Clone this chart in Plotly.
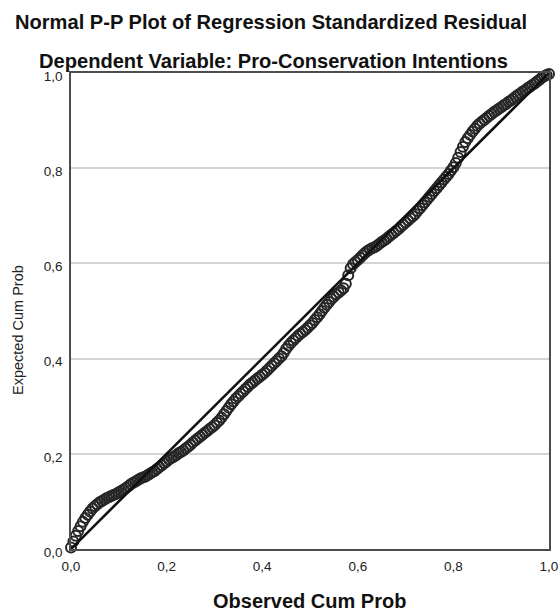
import plotly.graph_objects as go

# Observed cumulative probability (x) and expected cumulative probability (y)
observed = [0.000, 0.005, 0.010, 0.015, 0.020, 0.025, 0.030, 0.035, 0.040, 0.045,
            0.050, 0.055, 0.060, 0.065, 0.070, 0.075, 0.080, 0.085, 0.090, 0.095,
            0.100, 0.105, 0.110, 0.115, 0.120, 0.125, 0.130, 0.135, 0.140, 0.145,
            0.150, 0.155, 0.160, 0.165, 0.170, 0.175, 0.180, 0.185, 0.190, 0.195,
            0.200, 0.205, 0.210, 0.215, 0.220, 0.225, 0.230, 0.235, 0.240, 0.245,
            0.250, 0.255, 0.260, 0.265, 0.270, 0.275, 0.280, 0.285, 0.290, 0.295,
            0.300, 0.305, 0.310, 0.315, 0.320, 0.325, 0.330, 0.335, 0.340, 0.345,
            0.350, 0.355, 0.360, 0.365, 0.370, 0.375, 0.380, 0.385, 0.390, 0.395,
            0.400, 0.405, 0.410, 0.415, 0.420, 0.425, 0.430, 0.435, 0.440, 0.445,
            0.450, 0.455, 0.460, 0.465, 0.470, 0.475, 0.480, 0.485, 0.490, 0.495,
            0.500, 0.505, 0.510, 0.515, 0.520, 0.525, 0.530, 0.535, 0.540, 0.545,
            0.550, 0.555, 0.560, 0.565, 0.570, 0.575, 0.580, 0.585, 0.590, 0.595,
            0.600, 0.605, 0.610, 0.615, 0.620, 0.625, 0.630, 0.635, 0.640, 0.645,
            0.650, 0.655, 0.660, 0.665, 0.670, 0.675, 0.680, 0.685, 0.690, 0.695,
            0.700, 0.705, 0.710, 0.715, 0.720, 0.725, 0.730, 0.735, 0.740, 0.745,
            0.750, 0.755, 0.760, 0.765, 0.770, 0.775, 0.780, 0.785, 0.790, 0.795,
            0.800, 0.805, 0.810, 0.815, 0.820, 0.825, 0.830, 0.835, 0.840, 0.845,
            0.850, 0.855, 0.860, 0.865, 0.870, 0.875, 0.880, 0.885, 0.890, 0.895,
            0.900, 0.905, 0.910, 0.915, 0.920, 0.925, 0.930, 0.935, 0.940, 0.945,
            0.950, 0.955, 0.960, 0.965, 0.970, 0.975, 0.980, 0.985, 0.990, 0.995,
            1.000]
expected = [0.003, 0.016, 0.028, 0.038, 0.048, 0.057, 0.065, 0.072, 0.079, 0.085,
            0.090, 0.094, 0.098, 0.101, 0.104, 0.107, 0.109, 0.112, 0.114, 0.116,
            0.119, 0.122, 0.125, 0.128, 0.132, 0.136, 0.139, 0.142, 0.145, 0.148,
            0.150, 0.152, 0.155, 0.158, 0.161, 0.164, 0.168, 0.172, 0.176, 0.180,
            0.184, 0.188, 0.191, 0.194, 0.197, 0.201, 0.204, 0.207, 0.211, 0.215,
            0.219, 0.224, 0.228, 0.232, 0.236, 0.240, 0.244, 0.248, 0.252, 0.256,
            0.260, 0.265, 0.270, 0.276, 0.283, 0.290, 0.297, 0.304, 0.310, 0.316,
            0.321, 0.326, 0.331, 0.336, 0.341, 0.346, 0.350, 0.354, 0.358, 0.362,
            0.366, 0.370, 0.375, 0.380, 0.385, 0.390, 0.395, 0.400, 0.405, 0.412,
            0.420, 0.427, 0.433, 0.438, 0.443, 0.448, 0.452, 0.456, 0.460, 0.465,
            0.470, 0.475, 0.481, 0.487, 0.493, 0.500, 0.507, 0.513, 0.519, 0.525,
            0.530, 0.535, 0.539, 0.543, 0.548, 0.557, 0.575, 0.590, 0.598, 0.603,
            0.607, 0.612, 0.617, 0.622, 0.626, 0.629, 0.632, 0.634, 0.637, 0.641,
            0.645, 0.648, 0.652, 0.656, 0.660, 0.664, 0.668, 0.672, 0.677, 0.681,
            0.686, 0.690, 0.695, 0.699, 0.704, 0.710, 0.716, 0.722, 0.728, 0.734,
            0.740, 0.746, 0.752, 0.758, 0.764, 0.770, 0.776, 0.782, 0.788, 0.795,
            0.802, 0.811, 0.822, 0.834, 0.845, 0.855, 0.863, 0.870, 0.877, 0.883,
            0.889, 0.894, 0.898, 0.902, 0.906, 0.910, 0.914, 0.918, 0.921, 0.925,
            0.928, 0.932, 0.935, 0.939, 0.942, 0.946, 0.950, 0.954, 0.957, 0.961,
            0.964, 0.968, 0.971, 0.975, 0.978, 0.982, 0.986, 0.990, 0.993, 0.996,
            0.998]

ref_line = [0.0, 1.0]
tick_vals = [0.0, 0.2, 0.4, 0.6, 0.8, 1.0]

W, H = 560, 613
L, R, T, B = 71, 11, 73, 64
pw, ph = W - L - R, H - T - B

def px(x):
    return (x - L) / pw

def py(y):
    return (H - B - y) / ph

FONT = "Liberation Sans, Arial, sans-serif"

fig = go.Figure()
fig.add_trace(go.Scatter(
    x=observed, y=expected, mode="markers",
    marker=dict(symbol="circle-open", size=10, color="#262626",
                line=dict(width=2, color="#262626")),
    showlegend=False, hoverinfo="skip", cliponaxis=False))
fig.add_trace(go.Scatter(
    x=ref_line, y=ref_line, mode="lines",
    line=dict(color="#111111", width=2.6),
    showlegend=False, hoverinfo="skip"))

axis_common = dict(
    range=[0, 1], tickvals=tick_vals, tickformat=".1f",
    showline=True, linecolor="#4d4d4d", linewidth=1.5, mirror=True,
    ticks="", zeroline=False, automargin=False,
    tickfont=dict(family=FONT, size=13.5, color="#222222"),
)
fig.update_xaxes(showgrid=False, ticklabelstandoff=4, **axis_common)
fig.update_yaxes(showgrid=True, gridcolor="#d4d4d4", gridwidth=1.5,
                 ticklabelstandoff=4, ticklabelshift=3, **axis_common)

fig.update_layout(
    width=W, height=H,
    margin=dict(l=L, r=R, t=T, b=B),
    plot_bgcolor="white", paper_bgcolor="white",
    separators=",.",
    font=dict(family=FONT, color="#222222"),
    annotations=[
        dict(text="<b>Normal P-P Plot of Regression Standardized Residual</b>",
             xref="paper", yref="paper", x=px(271), y=py(22),
             xanchor="center", yanchor="middle", showarrow=False,
             font=dict(family=FONT, size=20.1, color="#111111")),
        dict(text="<b>Dependent Variable: Pro-Conservation Intentions</b>",
             xref="paper", yref="paper", x=px(273), y=py(61),
             xanchor="center", yanchor="middle", showarrow=False,
             font=dict(family=FONT, size=20.1, color="#111111")),
        dict(text="<b>Observed Cum Prob</b>",
             xref="paper", yref="paper", x=px(309.5), y=py(601),
             xanchor="center", yanchor="middle", showarrow=False,
             font=dict(family=FONT, size=20, color="#111111")),
        dict(text="Expected Cum Prob", textangle=-90,
             xref="paper", yref="paper", x=px(17.5), y=py(330.5),
             xanchor="center", yanchor="middle", showarrow=False,
             font=dict(family=FONT, size=14.5, color="#222222")),
    ],
)

# Remove the default 8px page margin so the 560x613 figure fills the window exactly.
fig.write_html("out.html", config={"displayModeBar": False},
               post_script="document.body.style.margin='0px';")
